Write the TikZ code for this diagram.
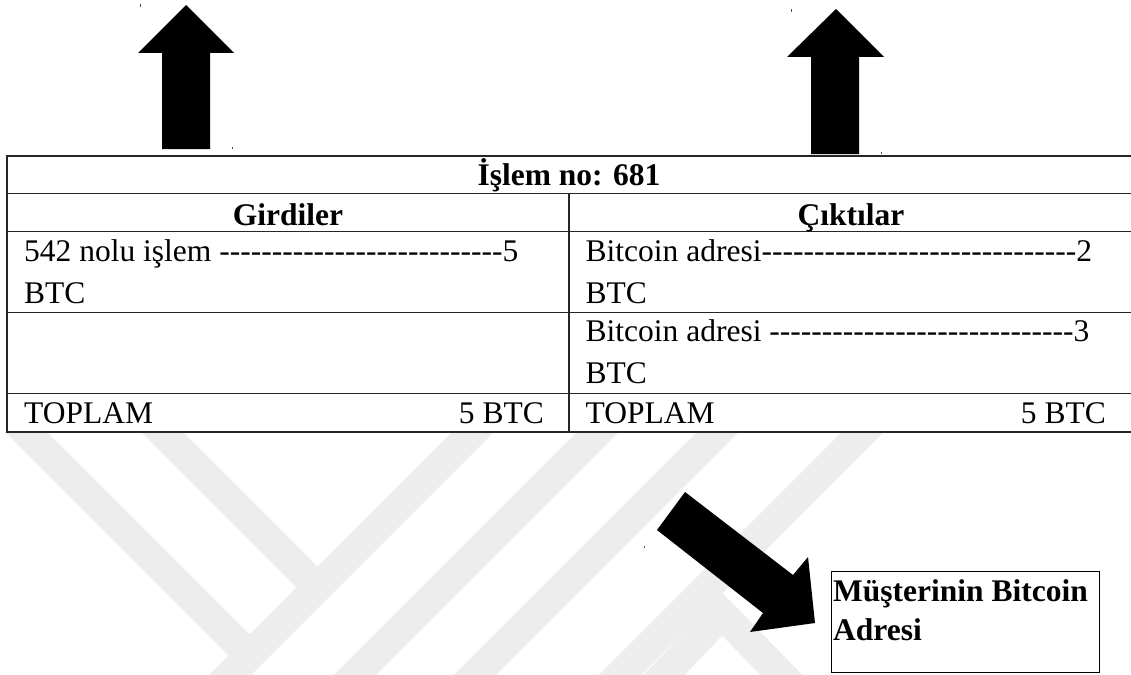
\documentclass[tikz,border=0pt]{standalone}
\usepackage{fontspec}
\setmainfont{Liberation Serif}
\newcount\mydcnt
\newcommand\mydashes[1]{\mydcnt=0 \loop\ifnum\mydcnt<#1 \hbox{-}\advance\mydcnt by 1 \repeat}
\begin{document}
\begin{tikzpicture}[x=1pt,y=-1pt,
  wm/.style={line width=30pt, draw=black!7},
  tbl/.style={line width=1.3pt, draw=black!85},
  txt/.style={inner sep=0pt, anchor=base west, font=\fontsize{31.5}{41}\selectfont},
  btxt/.style={inner sep=0pt, anchor=base, font=\fontsize{31.5}{41}\selectfont\bfseries},
  rtxt/.style={inner sep=0pt, anchor=base east, font=\fontsize{31.5}{41}\selectfont},
  blk/.style={fill=black},
  speck/.style={fill=black!70}]
\useasboundingbox (0,0) rectangle (1131,674);
% watermark
\begin{scope}
  \clip (0,432) rectangle (1131,674);
  \draw[wm] (-20,386) -- (250,656);
  \draw[wm] (130,400) -- (317,587);
  \draw[wm] (160,745) -- (520,385);
  \draw[wm] (330,700) -- (640,390);
  \draw[wm] (450,700) -- (770,380);
  \draw[wm] (600,695) -- (900,395);
  \draw[wm, line join=miter] (648,692) -- (722,614) -- (798,692);
\end{scope}
% up arrows
\fill[blk] (186,5) -- (234,53) -- (210,53) -- (210,149) -- (162,149) -- (162,53) -- (138,53) -- cycle;
\fill[blk] (836,9) -- (884,57) -- (859,57) -- (859,154) -- (811,154) -- (811,57) -- (787,57) -- cycle;
% diagonal arrow
\fill[blk] (685,492) -- (793,575) -- (808,557) -- (815,623) -- (750,632) -- (763,613) -- (657,530) -- cycle;
% specks
\fill[speck] (139.5,4.5) rectangle +(1.2,2.5);
\fill[speck] (231.5,146.5) rectangle +(1.2,2.5);
\fill[speck] (790.5,9.5) rectangle +(1.2,2.5);
\fill[speck] (880.5,151.5) rectangle +(1.2,2.5);
\fill[speck] (643.5,545.5) rectangle +(1.2,2.5);
% table
\filldraw[tbl, fill=white] (7,156) rectangle (1140,432);
\draw[tbl] (7,193.3) -- (1140,193.3);
\draw[tbl] (7,231.7) -- (1140,231.7);
\draw[tbl] (7,312.7) -- (1140,312.7);
\draw[tbl] (7,393.3) -- (1140,393.3);
\draw[tbl] (569,193.3) -- (569,432);
\node[btxt] (title) at (569,185) {İşlem no: 681};
\node[btxt] (inhead) at (288,225) {Girdiler};
\node[btxt] (outhead) at (851,225) {Çıktılar};
\node[txt] (in1) at (24,261.7) {542 nolu işlem \mydashes{27}5};
\node[txt] (in1b) at (24,303.3) {BTC};
\node[txt] (out1) at (585.5,261.7) {Bitcoin adresi\mydashes{30}2};
\node[txt] (out1b) at (585.5,303.3) {BTC};
\node[txt] (out2) at (585.5,341.7) {Bitcoin adresi \mydashes{29}3};
\node[txt] (out2b) at (585.5,383.3) {BTC};
\node[txt] (intot) at (24,423.3) {TOPLAM};
\node[rtxt] (intotv) at (544,423.3) {5 BTC};
\node[txt] (outtot) at (585.5,423.3) {TOPLAM};
\node[rtxt] (outtotv) at (1106,423.3) {5 BTC};
% customer box
\node[draw, line width=1.3pt, inner sep=0pt, anchor=north west, minimum width=268pt, minimum height=101pt] (box) at (831,571) {};
\node[btxt, anchor=base west] (boxl1) at (833,601.7) {Müşterinin Bitcoin};
\node[btxt, anchor=base west] (boxl2) at (833,640) {Adresi};
\end{tikzpicture}
\end{document}
